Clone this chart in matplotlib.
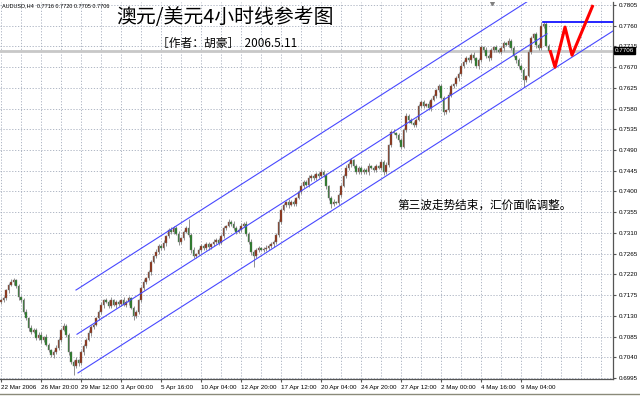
import matplotlib
matplotlib.use('Agg')
import matplotlib.pyplot as plt
import numpy as np

plt.rcParams['font.family'] = ['Liberation Sans', 'DejaVu Sans']
cjk = ['Noto Sans CJK SC', 'DejaVu Sans']

# AUDUSD H4 closes in pips (x 0.0001)
closes = [
    7164, 7168, 7186, 7197, 7203, 7208, 7195, 7171,
    7164, 7138, 7125, 7104, 7095, 7100, 7082, 7089,
    7078, 7084, 7067, 7056, 7045, 7051, 7060, 7078,
    7100, 7108, 7089, 7051, 7030, 7021, 7034, 7027,
    7051, 7064, 7078, 7093, 7106, 7110, 7125, 7138,
    7154, 7164, 7160, 7151, 7164, 7154, 7160, 7156,
    7164, 7154, 7160, 7168, 7147, 7130, 7138, 7164,
    7190, 7203, 7212, 7225, 7247, 7260, 7269, 7282,
    7277, 7288, 7303, 7316, 7312, 7321, 7308, 7290,
    7299, 7312, 7321, 7306, 7273, 7260, 7264, 7273,
    7282, 7277, 7286, 7280, 7286, 7290, 7295, 7288,
    7303, 7321, 7325, 7334, 7330, 7321, 7312, 7316,
    7325, 7330, 7308, 7290, 7269, 7260, 7273, 7277,
    7273, 7275, 7277, 7282, 7286, 7290, 7306, 7334,
    7360, 7371, 7377, 7371, 7377, 7373, 7386, 7399,
    7412, 7421, 7414, 7429, 7434, 7429, 7438, 7434,
    7442, 7436, 7412, 7386, 7373, 7377, 7375, 7392,
    7412, 7434, 7451, 7460, 7468, 7455, 7442, 7451,
    7442, 7447, 7442, 7455, 7451, 7447, 7455, 7451,
    7464, 7442, 7458, 7501, 7529, 7527, 7523, 7512,
    7497, 7534, 7564, 7555, 7549, 7545, 7555, 7586,
    7594, 7586, 7590, 7581, 7599, 7607, 7620, 7629,
    7603, 7573, 7577, 7609, 7629, 7633, 7646, 7655,
    7672, 7681, 7689, 7685, 7696, 7689, 7672, 7685,
    7714, 7707, 7694, 7689, 7707, 7714, 7707, 7703,
    7711, 7722, 7718, 7727, 7711, 7694, 7685, 7672,
    7664, 7642, 7651, 7703, 7733, 7742, 7718, 7711,
    7759, 7764, 7716, 7706]
first_open = 7160

# wick lengths above / below the body, pips
up_wick = [
    4, 6, 3, 5, 8, 4, 3, 5, 3, 4, 6, 2, 5, 3, 4, 6,
    5, 3, 7, 4, 3, 5, 6, 4, 3, 6, 5, 4, 3, 4, 6, 3,
    5, 4, 3, 6, 4, 5, 3, 4, 6, 3, 5, 4, 6, 3, 5, 4,
    3, 6, 4, 5, 3, 4, 5, 3, 4, 6, 3, 5, 4, 3, 6, 5,
    4, 7, 3, 5, 6, 4, 5, 6, 3, 4, 5, 20, 4, 6, 3, 5,
    4, 3, 5, 4, 3, 6, 4, 3, 5, 4, 3, 6, 4, 5, 3, 4,
    6, 3, 5, 4, 7, 3, 5, 4, 3, 4, 6, 3, 5, 4, 3, 6,
    5, 4, 3, 6, 4, 5, 3, 4, 4, 5, 3, 6, 4, 3, 5, 4,
    6, 4, 5, 3, 4, 6, 3, 5, 4, 3, 6, 5, 4, 3, 5, 4,
    5, 3, 4, 6, 3, 5, 4, 3, 6, 4, 5, 3, 4, 6, 3, 5,
    4, 3, 6, 5, 4, 3, 5, 4, 5, 4, 3, 6, 4, 5, 3, 4,
    4, 5, 3, 6, 4, 3, 5, 4, 6, 4, 5, 3, 4, 6, 3, 5,
    4, 3, 6, 5, 4, 3, 5, 4, 5, 4, 3, 6, 4, 5, 3, 4,
    4, 5, 3, 6, 4, 3, 5, 4, 9, 4, 5, 4]
dn_wick = [
    5, 3, 4, 6, 3, 5, 4, 6, 4, 5, 3, 6, 4, 3, 5, 4,
    6, 4, 3, 5, 4, 6, 3, 4, 5, 3, 4, 6, 5, 19, 4, 5,
    3, 5, 4, 3, 6, 4, 3, 5, 4, 6, 3, 5, 4, 3, 6, 4,
    5, 3, 4, 6, 3, 8, 4, 3, 4, 5, 3, 4, 6, 3, 4, 5,
    3, 4, 6, 3, 5, 4, 3, 6, 4, 5, 3, 4, 6, 5, 4, 3,
    5, 4, 3, 6, 4, 5, 3, 4, 3, 5, 4, 3, 6, 4, 5, 3,
    4, 3, 5, 4, 6, 24, 4, 5, 3, 4, 5, 3, 4, 6, 3, 4,
    5, 3, 4, 6, 3, 5, 4, 3, 4, 5, 3, 4, 6, 3, 5, 4,
    3, 4, 6, 5, 8, 4, 3, 5, 4, 3, 5, 4, 6, 3, 4, 5,
    3, 5, 4, 6, 3, 4, 5, 3, 4, 6, 3, 5, 4, 3, 6, 4,
    5, 3, 4, 6, 3, 5, 4, 3, 4, 5, 3, 4, 6, 3, 5, 4,
    3, 6, 5, 4, 3, 5, 4, 6, 4, 3, 5, 4, 6, 3, 4, 5,
    3, 5, 4, 6, 3, 4, 5, 3, 4, 6, 3, 5, 4, 3, 6, 4,
    5, 15, 4, 3, 5, 4, 6, 3, 4, 5, 3, 1]

date_labels = ['22 Mar 2006', '26 Mar 20:00', '29 Mar 12:00', '3 Apr 00:00',
               '5 Apr 16:00', '10 Apr 04:00', '12 Apr 20:00', '17 Apr 12:00',
               '20 Apr 04:00', '24 Apr 20:00', '27 Apr 12:00', '2 May 00:00',
               '4 May 16:00', '9 May 04:00']
price_ticks = [0.6995, 0.7040, 0.7085, 0.7130, 0.7175, 0.7220, 0.7265, 0.7310,
               0.7355, 0.7400, 0.7445, 0.7490, 0.7535, 0.7580, 0.7625, 0.7670,
               0.7715, 0.7760, 0.7805]
bid = 0.7706
top_line = 0.7768

# channel lines: start bar, start price, end bar; common slope per bar
chan_start = [30.0, 30.4, 30.8]
chan_price = [0.7186, 0.7090, 0.7006]
chan_end = [212, 218.4, 244.8]
chan_slope = 0.000347

# red forecast zigzag
wave_x = [219.6, 221.6, 225.6, 228.4, 236.8]
wave_y = [0.7707, 0.7670, 0.7757, 0.7696, 0.7805]

c = np.array(closes) / 1e4
o = np.array([first_open] + closes[:-1]) / 1e4
hi = np.maximum(o, c) + np.array(up_wick) / 1e4
lo = np.minimum(o, c) - np.array(dn_wick) / 1e4
x = np.arange(len(c))

fig = plt.figure(figsize=(6.4, 3.96), dpi=100)
ax = fig.add_axes([0, 17 / 396, 613 / 640, 377 / 396])
ax.set_xlim(-0.4, 244.8)
ax.set_ylim(0.69928, 0.78115)

grid_col = '#a4acbc'
ax.set_xticks(np.arange(0, 209, 16))
ax.set_xticks(np.arange(0, 245, 8), minor=True)
ax.set_xticklabels(date_labels, ha='left', fontsize=4.5)
ax.set_yticks(price_ticks)
ax.set_yticklabels(['%.4f' % p for p in price_ticks], fontsize=4.5)
ax.yaxis.tick_right()
ax.tick_params(axis='x', which='major', length=2.5, pad=2, color='#555555')
ax.tick_params(axis='x', which='minor', length=0)
ax.tick_params(axis='y', length=2.5, pad=1.5, color='#555555')
ax.grid(which='both', axis='x', color=grid_col, linestyle=(0, (1.5, 2)), lw=0.6)
ax.grid(axis='y', color=grid_col, linestyle=(0, (1.5, 2)), lw=0.6)
ax.set_axisbelow(True)
for s in ['left', 'top']:
    ax.spines[s].set_visible(False)
for s in ['right', 'bottom']:
    ax.spines[s].set_color('#555555')
    ax.spines[s].set_linewidth(0.9)

# bid line
ax.axhline(bid, color='#c8c8c8', lw=2, zorder=2)

# candles
ax.vlines(x, lo, hi, color='#909090', lw=0.7, zorder=3)
body = np.maximum(np.abs(c - o), 0.00006)
cols = np.where(c >= o, '#8e2a0c', '#1e7a1e')
ax.bar(x, body, bottom=np.minimum(o, c), width=0.75, color=cols,
       edgecolor='#7a7a7a', linewidth=0.3, zorder=4)

# channel
for s, p, e in zip(chan_start, chan_price, chan_end):
    ax.plot([s, e], [p, p + chan_slope * (e - s)], color='#4848ff', lw=0.8, zorder=5)
ax.plot([216.8, 244.8], [top_line, top_line], color='#0000ff', lw=1.2, zorder=5)

ax.plot(wave_x, wave_y, color='#ff0000', lw=2.2, zorder=6, solid_capstyle='butt')

ax.plot([196.4], [0.78085], marker='v', color='#808080', ms=3, zorder=7)

ax.text(1.003, bid, '0.7706', transform=ax.get_yaxis_transform(), color='white',
        fontsize=4.5, va='center', ha='left', zorder=10, clip_on=False,
        bbox=dict(boxstyle='square,pad=0.15', fc='black', ec='black'))

fig.text(2 / 640, 1 - 6 / 396, 'AUDUSD,H4  0.7716 0.7720 0.7705 0.7706',
         fontsize=4, va='center', ha='left')
fig.text(225 / 640, 1 - 17 / 396, '澳元/美元4小时线参考图', family=cjk,
         fontsize=14.3, va='center', ha='center')
fig.text(157 / 640, 1 - 43 / 396, '［作者：胡豪］  2006.5.11', family=cjk,
         fontsize=8.5, va='center', ha='left')
fig.text(397 / 640, 1 - 205 / 396, '第三波走势结束，汇价面临调整。', family=cjk,
         fontsize=8.4, va='center', ha='left')

fig.add_artist(plt.Line2D([0, 1], [2.5 / 396, 2.5 / 396], color='#8a8a7a', lw=1))

fig.savefig('out.png', dpi=100)
